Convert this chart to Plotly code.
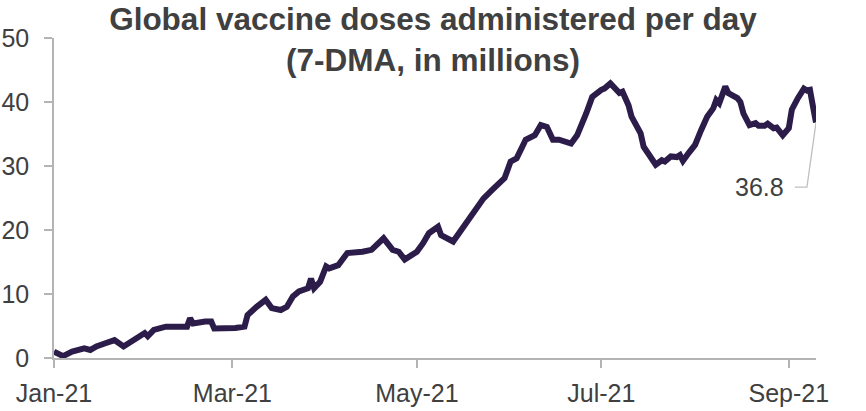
import pandas as pd
import plotly.graph_objects as go

# 7-day moving average of global vaccine doses per day (millions)
dates = [
    "2021-01-01", "2021-01-04", "2021-01-07", "2021-01-11", "2021-01-13", "2021-01-15",
    "2021-01-18", "2021-01-21", "2021-01-24", "2021-01-27", "2021-01-31", "2021-02-01",
    "2021-02-03", "2021-02-07", "2021-02-14", "2021-02-15", "2021-02-16", "2021-02-20",
    "2021-02-22", "2021-02-23", "2021-02-27", "2021-03-02", "2021-03-05", "2021-03-06",
    "2021-03-09", "2021-03-12", "2021-03-14", "2021-03-17", "2021-03-19", "2021-03-21",
    "2021-03-23", "2021-03-26", "2021-03-27", "2021-03-28", "2021-03-30", "2021-04-01",
    "2021-04-02", "2021-04-05", "2021-04-08", "2021-04-11", "2021-04-13", "2021-04-16",
    "2021-04-18", "2021-04-20", "2021-04-23", "2021-04-25", "2021-04-27", "2021-04-29",
    "2021-05-01", "2021-05-03", "2021-05-05", "2021-05-08", "2021-05-09", "2021-05-13",
    "2021-05-15", "2021-05-18", "2021-05-20", "2021-05-21", "2021-05-23", "2021-05-26",
    "2021-05-29", "2021-05-30", "2021-06-01", "2021-06-03", "2021-06-06", "2021-06-09",
    "2021-06-11", "2021-06-13", "2021-06-15", "2021-06-17", "2021-06-21", "2021-06-23",
    "2021-06-26", "2021-06-28", "2021-07-01", "2021-07-02", "2021-07-04", "2021-07-06",
    "2021-07-07", "2021-07-08", "2021-07-10", "2021-07-11", "2021-07-13", "2021-07-14",
    "2021-07-15", "2021-07-17", "2021-07-19", "2021-07-21", "2021-07-22", "2021-07-24",
    "2021-07-26", "2021-07-27", "2021-07-28", "2021-07-30", "2021-08-01", "2021-08-03",
    "2021-08-05", "2021-08-07", "2021-08-08", "2021-08-09", "2021-08-11", "2021-08-12",
    "2021-08-13", "2021-08-15", "2021-08-16", "2021-08-17", "2021-08-19", "2021-08-21",
    "2021-08-22", "2021-08-24", "2021-08-25", "2021-08-27", "2021-08-28", "2021-08-30",
    "2021-09-01", "2021-09-02", "2021-09-04", "2021-09-06", "2021-09-07", "2021-09-08",
    "2021-09-09", "2021-09-10",
]
doses_mn = [
    1.0, 0.3, 1.0, 1.5, 1.25, 1.8,
    2.3, 2.8, 1.8, 2.8, 3.9, 3.4,
    4.4, 4.9, 4.9, 6.2, 5.4, 5.7,
    5.7, 4.6, 4.6, 4.7, 4.9, 6.7,
    8.0, 9.1, 7.8, 7.5, 8.0, 9.6,
    10.4, 10.9, 12.4, 10.9, 11.9, 14.3,
    14.0, 14.5, 16.4, 16.4, 16.6, 16.9,
    17.9, 18.7, 16.9, 16.6, 15.4, 16.1,
    16.6, 17.9, 19.5, 20.5, 19.2, 18.2,
    19.5, 21.8, 23.1, 23.4, 24.9, 26.3,
    27.8, 28.1, 30.7, 31.2, 34.1, 34.8,
    36.4, 36.1, 34.1, 34.1, 33.5, 34.8,
    38.2, 40.8, 41.9, 42.1, 42.9, 42.1,
    41.4, 41.6, 39.5, 37.7, 35.6, 35.1,
    33.0, 31.5, 30.2, 30.9, 30.7, 31.5,
    31.4, 31.7, 30.8, 32.1, 33.3, 35.6,
    37.7, 39.0, 40.3, 39.8, 42.4, 41.4,
    41.1, 40.6, 40.0, 38.2, 36.4, 36.7,
    36.3, 36.3, 36.6, 35.9, 36.0, 34.8,
    35.9, 38.8, 40.6, 42.1, 41.8, 41.9,
    39.3, 36.8,
]
y_ticks = [0, 10, 20, 30, 40, 50]

LINE_COLOR = "#2c1c4a"
TEXT_COLOR = "#404040"
AXIS_COLOR = "#b4b4b4"
FONT = "Arial, Liberation Sans, sans-serif"

x = pd.to_datetime(dates)
last_x, last_y = x[-1], doses_mn[-1]

fig = go.Figure()
fig.add_trace(go.Scatter(
    x=x, y=doses_mn, mode="lines",
    line=dict(color=LINE_COLOR, width=6),
    showlegend=False, hoverinfo="x+y", cliponaxis=False,
))

# callout for the latest value: leader line dropping down, then a short tick left
label_y = last_y - 10.1
fig.add_trace(go.Scatter(
    x=[last_x, last_x - pd.Timedelta(days=3), last_x - pd.Timedelta(days=7)],
    y=[last_y, label_y, label_y],
    mode="lines", line=dict(color="#bfbfbf", width=1.3),
    showlegend=False, hoverinfo="skip",
))
fig.add_annotation(
    x=last_x - pd.Timedelta(days=10), y=label_y,
    text=f"{last_y:.1f}", showarrow=False,
    xanchor="right", yanchor="middle",
    font=dict(family=FONT, size=25, color=TEXT_COLOR),
)

fig.update_layout(
    width=866, height=411,
    margin=dict(l=54, r=50, t=38, b=53, autoexpand=False),
    paper_bgcolor="white", plot_bgcolor="white",
    font=dict(family=FONT, color=TEXT_COLOR),
    title=dict(
        text="<b>Global vaccine doses administered per day<br>(7-DMA, in millions)</b>",
        x=0.5, xref="container", xanchor="center",
        y=0.927, yref="container", yanchor="top",
        font=dict(family=FONT, size=31.5, color=TEXT_COLOR),
    ),
    xaxis=dict(
        type="date", automargin=False,
        range=[x[0], last_x],
        tick0="2021-01-01", dtick="M2", tickformat="%b-%y",
        showline=True, linecolor=AXIS_COLOR, linewidth=1.5,
        ticks="outside", ticklen=8, tickcolor=AXIS_COLOR, tickwidth=1.5,
        showgrid=False, zeroline=False,
        tickfont=dict(family=FONT, size=25, color=TEXT_COLOR),
        ticklabelstandoff=4,
    ),
    yaxis=dict(
        range=[0, 50], tickvals=y_ticks, automargin=False,
        showline=True, linecolor=AXIS_COLOR, linewidth=1.5,
        ticks="outside", ticklen=8, tickcolor=AXIS_COLOR, tickwidth=1.5,
        showgrid=False, zeroline=False,
        tickfont=dict(family=FONT, size=25, color=TEXT_COLOR),
        ticklabelstandoff=10,
    ),
)

fig.write_html("out.html")
